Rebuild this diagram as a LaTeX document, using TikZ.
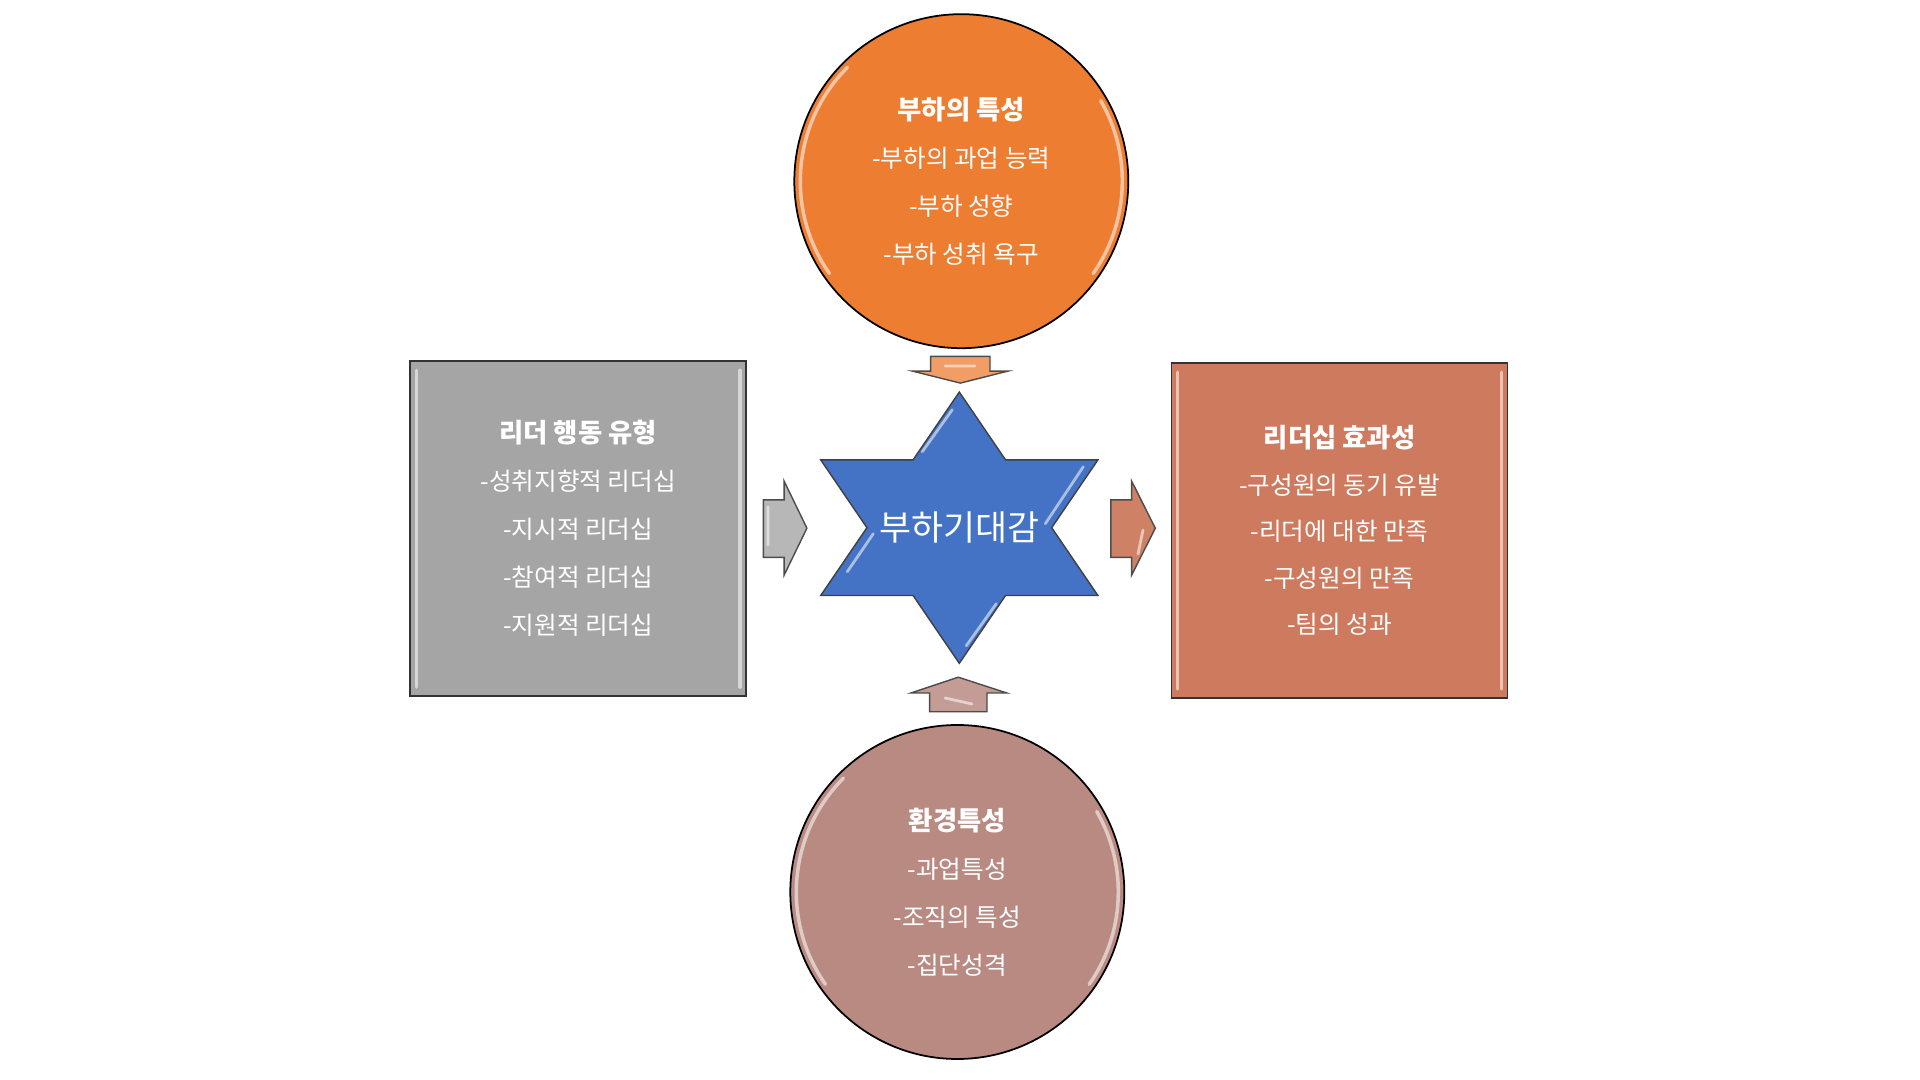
\documentclass[tikz,border=0pt]{standalone}
\usepackage{fontspec}
\newfontfamily\kor{Noto Sans CJK KR}
\usetikzlibrary{positioning}
\definecolor{follow}{HTML}{ED7D31}
\definecolor{leadc}{HTML}{A5A5A5}
\definecolor{effc}{HTML}{CD7A5E}
\definecolor{envc}{HTML}{B98A82}
\definecolor{starc}{HTML}{4472C4}
\tikzstyle{factor} = [
  draw=black,
  line width=0.5pt,
  circle,
  minimum size=3.34cm,
  inner sep=0pt,
  text=white,
  align=center,
  font=\kor\fontsize{7}{13.65}\selectfont,
]
\tikzstyle{panel} = [
  draw=black!80,
  line width=0.5pt,
  rectangle,
  minimum width=3.36cm,
  minimum height=3.35cm,
  inner sep=0pt,
  text=white,
  align=center,
  font=\kor\fontsize{7}{13.65}\selectfont,
]
\tikzstyle{blockarrow} = [
  draw=black!70,
  line width=0.4pt,
  line join=miter,
]
\tikzstyle{gloss} = [
  white,
  opacity=0.55,
  line width=1pt,
  line cap=round,
]
\newcommand{\ttl}[1]{{\bfseries\fontsize{7.5}{13.65}\selectfont #1}}

\begin{document}
\begin{tikzpicture}[
    auto,
  ]
  \useasboundingbox (0,0) rectangle (19.2,10.8);
  % four factors
  \node[factor, fill=follow] (follower) at (9.613,8.988)
    {\ttl{부하의 특성}\\-부하의 과업 능력\\-부하 성향\\-부하 성취 욕구};
  \node[factor, fill=envc] (environment) at (9.573,1.880)
    {\ttl{환경특성}\\-과업특성\\-조직의 특성\\-집단성격};
  \node[panel, fill=leadc] (leader) at (5.782,5.513)
    {\ttl{리더 행동 유형}\\-성취지향적 리더십\\-지시적 리더십\\-참여적 리더십\\-지원적 리더십};
  \node[panel, fill=effc, font=\kor\fontsize{7}{13.2}\selectfont] (effect) at (13.395,5.494)
    {\ttl{리더십 효과성}\\-구성원의 동기 유발\\-리더에 대한 만족\\-구성원의 만족\\-팀의 성과};
  % star in the middle
  \node[inner sep=0pt] (expect) at (9.593,5.523) {};
  \fill[starc, draw=black!75, line width=0.4pt, shift={(expect.center)}, scale=0.99]
    (0,1.37) -- (0.467,0.685) -- (1.40,0.685) -- (0.933,0)
    -- (1.40,-0.685) -- (0.467,-0.685) -- (0,-1.37)
    -- (-0.467,-0.685) -- (-1.40,-0.685) -- (-0.933,0)
    -- (-1.40,0.685) -- (-0.467,0.685) -- cycle;
  \draw[gloss, shift={(expect.center)}, line width=0.8pt]
    (-0.07,1.18) -- (-0.37,0.76)
    (1.24,0.61) -- (0.86,0.04)
    (-0.86,-0.06) -- (-1.12,-0.44)
    (0.07,-1.18) -- (0.37,-0.76);
  \node[text=white, font=\kor\fontsize{9.9}{11}\selectfont] (expecttext)
    at (expect.center) {부하기대감};
  % gloss on the factors
  \draw[gloss] ([shift={(135:1.61)}]follower.center) arc (135:215:1.61);
  \draw[gloss] ([shift={(-35:1.61)}]follower.center) arc (-35:30:1.61);
  \draw[gloss] ([shift={(135:1.61)}]environment.center) arc (135:215:1.61);
  \draw[gloss] ([shift={(-35:1.61)}]environment.center) arc (-35:30:1.61);
  \draw[gloss] ([shift={(0.07,-0.1)}]leader.north west) -- ([shift={(0.07,0.1)}]leader.south west);
  \draw[gloss] ([shift={(-0.07,-0.1)}]leader.north east) -- ([shift={(-0.07,0.1)}]leader.south east);
  \draw[gloss] ([shift={(0.07,-0.1)}]effect.north west) -- ([shift={(0.07,0.1)}]effect.south west);
  \draw[gloss] ([shift={(-0.07,-0.1)}]effect.north east) -- ([shift={(-0.07,0.1)}]effect.south east);
  % block arrows towards the star
  \fill[blockarrow, fill=follow!75!white]
    (9.306,7.236) -- (9.900,7.236) -- (9.900,7.088) -- (10.078,7.088)
    -- (9.603,6.969) -- (9.128,7.088) -- (9.306,7.088) -- cycle;
  \fill[blockarrow, fill=envc!85!white]
    (9.296,3.682) -- (9.870,3.682) -- (9.870,3.870) -- (10.068,3.870)
    -- (9.583,4.028) -- (9.108,3.870) -- (9.296,3.870) -- cycle;
  \fill[blockarrow, fill=leadc!80!white]
    (7.633,5.226) -- (7.633,5.801) -- (7.841,5.801) -- (7.841,5.989)
    -- (8.069,5.518) -- (7.841,5.048) -- (7.841,5.226) -- cycle;
  \fill[blockarrow, fill=effc!95!white]
    (11.108,5.226) -- (11.108,5.801) -- (11.316,5.801) -- (11.316,5.989)
    -- (11.553,5.518) -- (11.316,5.048) -- (11.316,5.226) -- cycle;
  \draw[gloss, line width=0.8pt]
    (9.45,7.14) -- (9.75,7.14)
    (9.45,3.82) -- (9.72,3.76)
    (7.68,5.73) -- (7.68,5.35)
    (11.43,5.50) -- (11.38,5.26);
\end{tikzpicture}
\end{document}
